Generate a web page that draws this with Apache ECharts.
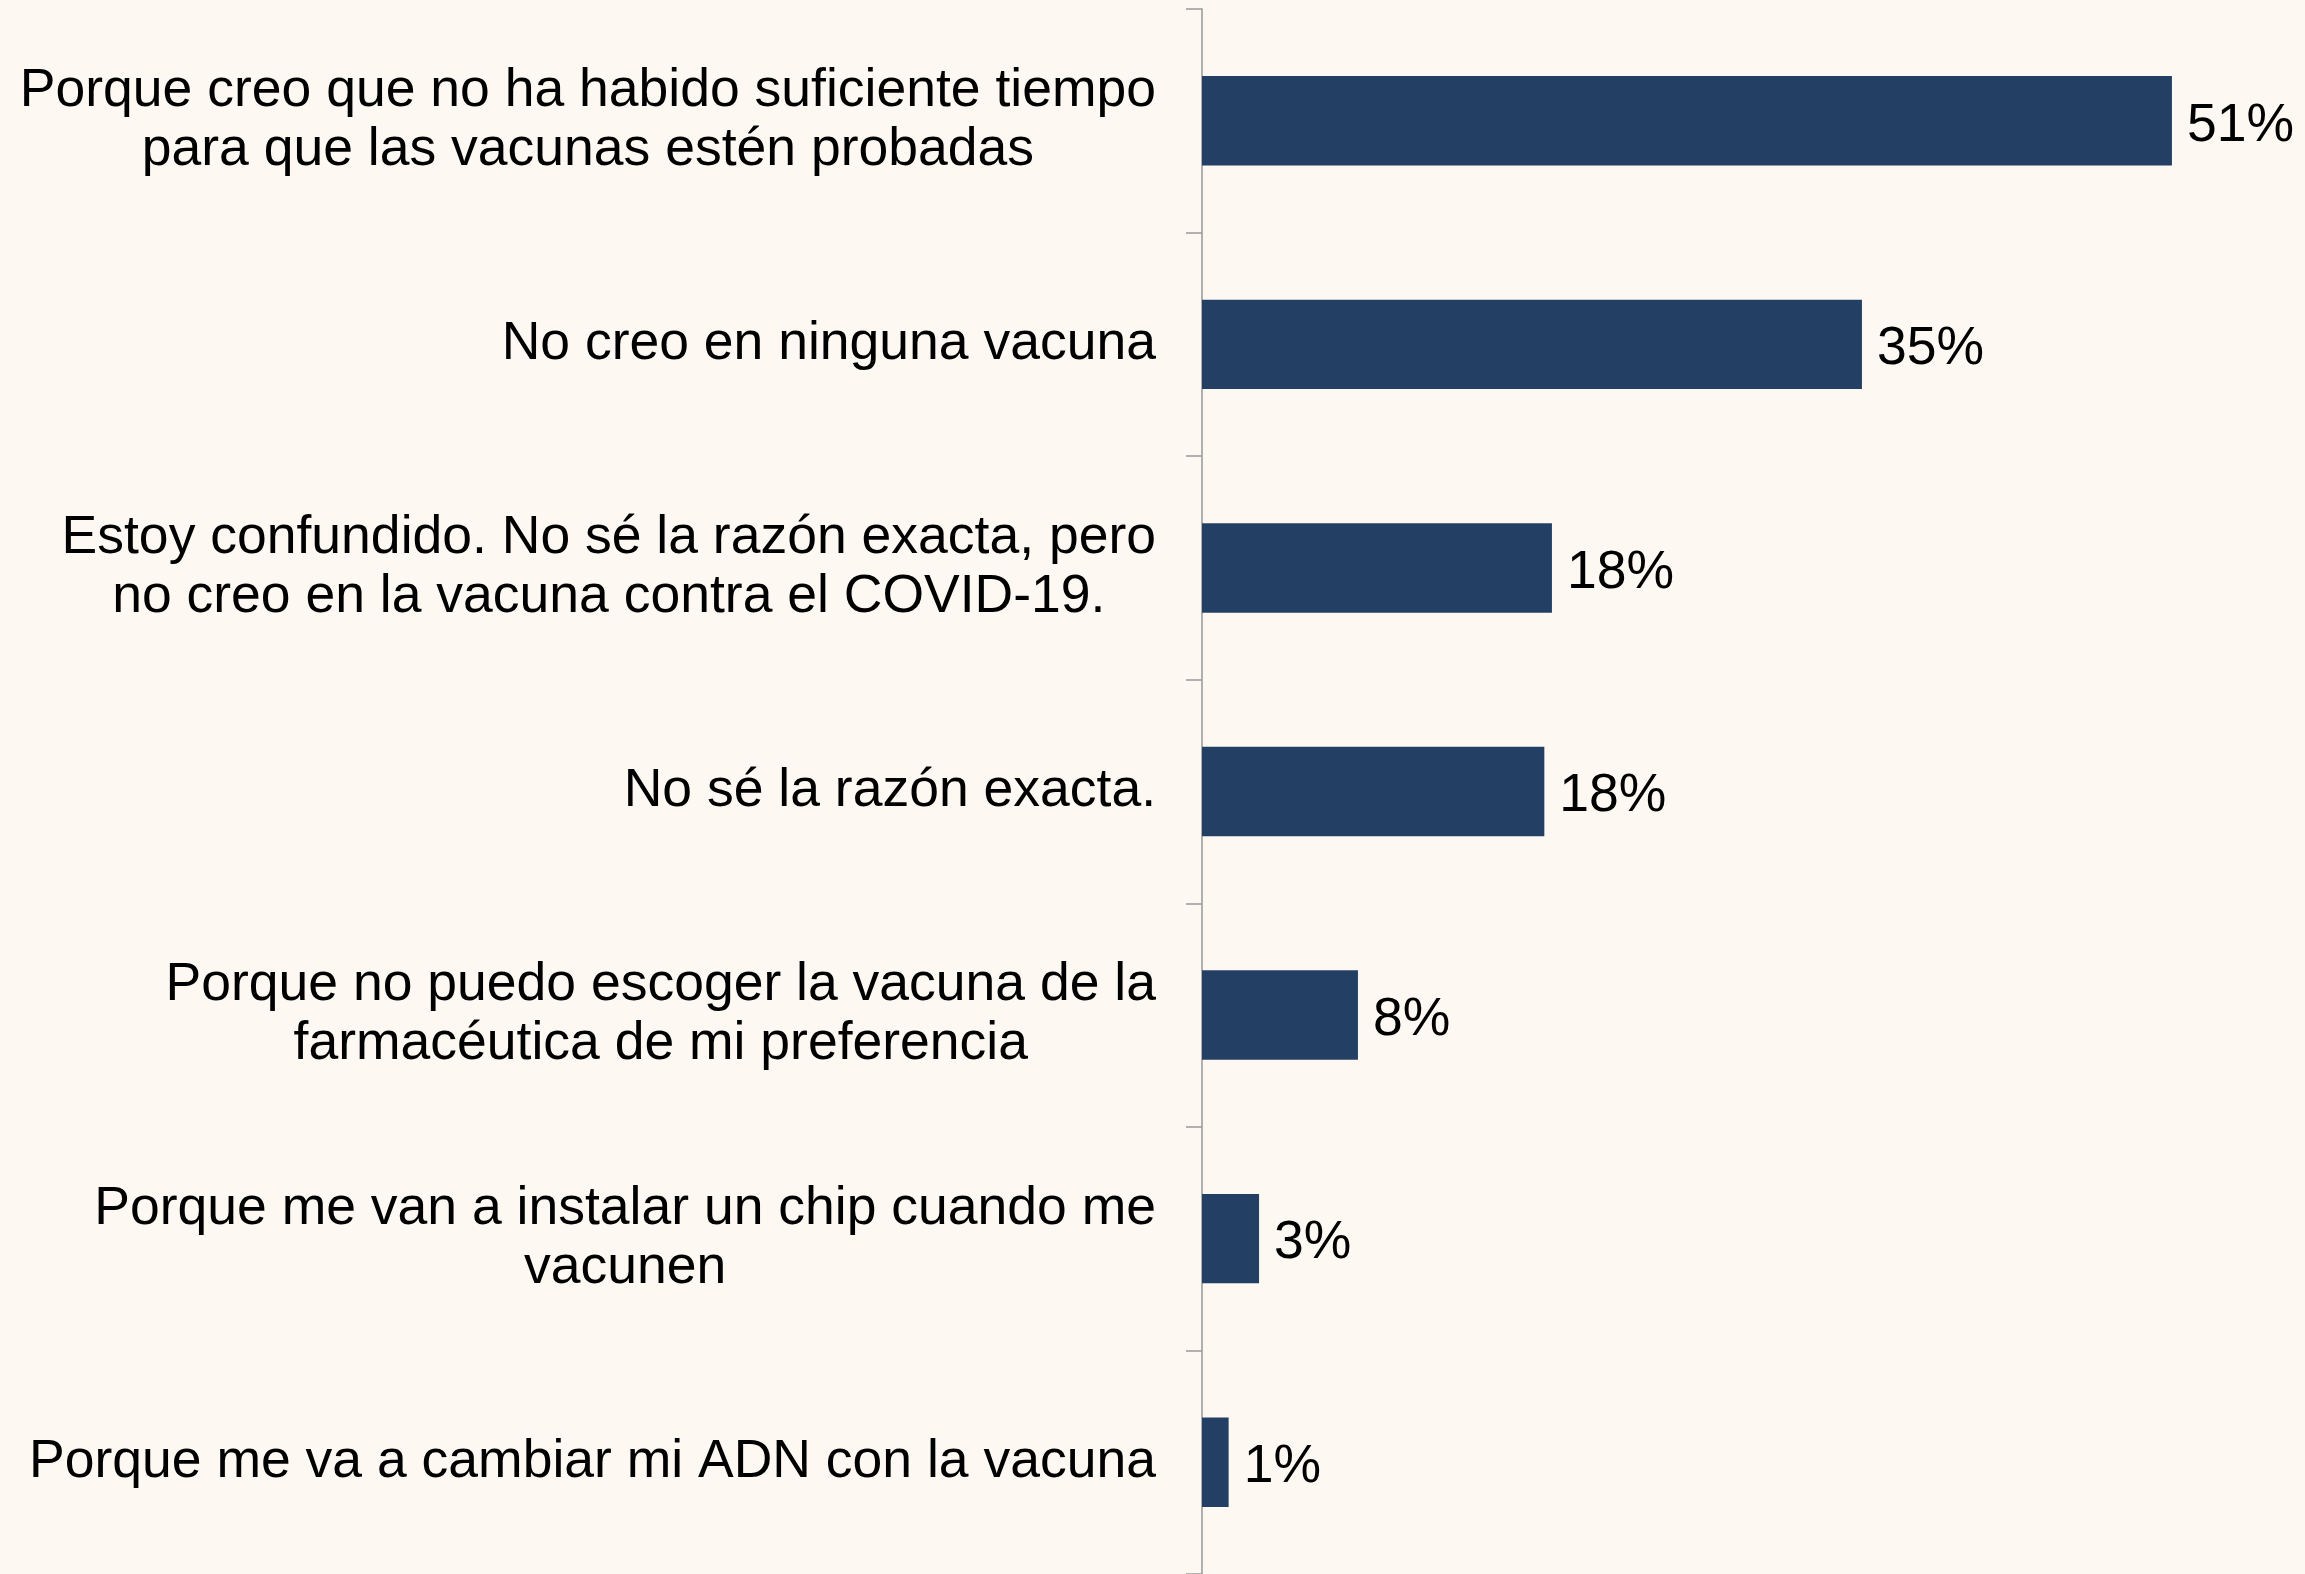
<!DOCTYPE html>
<html>
<head>
<meta charset="utf-8">
<script src="https://cdn.jsdelivr.net/npm/echarts@6/dist/echarts.min.js"></script>
<style>
html,body{margin:0;padding:0;background:#fdf8f2;}
#chart{width:2305px;height:1574px;}
</style>
</head>
<body>
<div id="chart"></div>
<script>
const categories = [
  "Porque creo que no ha habido suficiente tiempo\npara que las vacunas estén probadas",
  "No creo en ninguna vacuna",
  "Estoy confundido. No sé la razón exacta, pero\nno creo en la vacuna contra el COVID-19.",
  "No sé la razón exacta.",
  "Porque no puedo escoger la vacuna de la\nfarmacéutica de mi preferencia",
  "Porque me van a instalar un chip cuando me\nvacunen",
  "Porque me va a cambiar mi ADN con la vacuna"
];
const values = [51, 34.7, 18.4, 18.0, 8.2, 3.0, 1.4];

const FONT = '"Liberation Sans", Arial, sans-serif';
const chart = echarts.init(document.getElementById('chart'));
chart.setOption({
  backgroundColor: '#fdf8f2',
  animation: false,
  grid: { left: 1202, width: 1046, top: 9, height: 1572, containLabel: false },
  xAxis: {
    type: 'value', min: 0, max: 55, show: false
  },
  yAxis: {
    type: 'category',
    inverse: true,
    data: categories,
    axisLine: { show: true, lineStyle: { color: '#999999', width: 1.5 } },
    axisTick: { show: true, length: 16, inside: false, lineStyle: { color: '#999999', width: 1.5 } },
    axisLabel: {
      interval: 0,
      margin: 46,
      formatter: function (v) {
        return v.split('\n').map(function (l) { return '{c|' + l + '}'; }).join('\n');
      },
      rich: {
        c: { fontSize: 53.5, fontFamily: FONT, color: '#000000', align: 'center', lineHeight: 59 }
      }
    },
    splitLine: { show: false }
  },
  series: [{
    type: 'bar',
    data: values,
    barWidth: '40%',
    itemStyle: { color: '#243f64' },
    label: {
      show: true,
      position: 'right',
      distance: 15,
      offset: [0, 5],
      fontSize: 53.5,
      fontFamily: FONT,
      color: '#000000',
      formatter: function (p) { return Math.round(p.value) + '%'; }
    }
  }]
});
</script>
</body>
</html>
